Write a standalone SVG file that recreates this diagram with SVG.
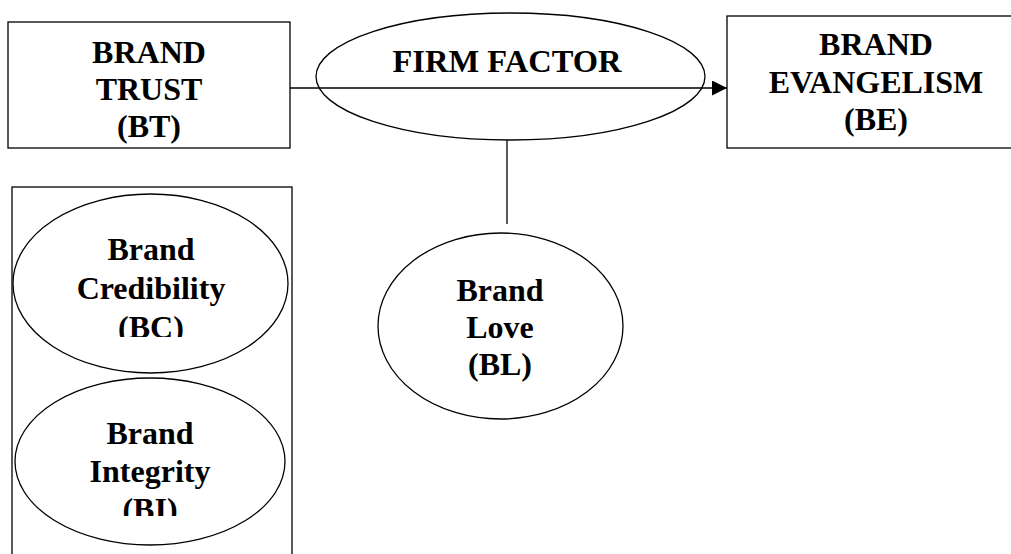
<svg xmlns="http://www.w3.org/2000/svg" width="1011" height="554" viewBox="0 0 1011 554">
<style>
.s{fill:none;stroke:#000;stroke-width:1.3}
.t{font-family:"Liberation Serif","Times New Roman",serif;font-weight:bold;font-size:32px;fill:#000;text-anchor:middle}
</style>
<defs>
<marker id="ah" markerWidth="16" markerHeight="16" refX="15" refY="7.5" orient="auto" markerUnits="userSpaceOnUse">
<path d="M0,0 L15,7.5 L0,15 Z" fill="#000"/>
</marker>
<clipPath id="cbc"><rect x="0" y="180" width="300" height="157"/></clipPath>
<clipPath id="cbi"><rect x="0" y="370" width="300" height="146"/></clipPath>
</defs>
<rect width="1011" height="554" fill="#fff"/>
<g id="bt">
<rect class="s" x="8" y="22" width="282" height="126"/>
<text class="t" x="149" y="63">BRAND</text>
<text class="t" x="149" y="100">TRUST</text>
<text class="t" x="149" y="137">(BT)</text>
</g>
<g id="be">
<rect class="s" x="727" y="16" width="300" height="132"/>
<text class="t" x="876" y="55">BRAND</text>
<text class="t" x="876" y="93">EVANGELISM</text>
<text class="t" x="876" y="130">(BE)</text>
</g>
<g id="ff">
<ellipse class="s" cx="510.5" cy="76.5" rx="194.5" ry="63.5"/>
<text class="t" x="507" y="72" style="font-size:32.5px">FIRM FACTOR</text>
</g>
<g id="connectors">
<line class="s" x1="290" y1="88" x2="727" y2="88" marker-end="url(#ah)"/>
<line class="s" x1="507" y1="140" x2="507" y2="224"/>
</g>
<g id="group">
<rect class="s" x="12" y="187" width="280" height="380"/>
</g>
<g id="bc">
<ellipse class="s" cx="150.5" cy="283.5" rx="137.5" ry="89.5"/>
<g clip-path="url(#cbc)">
<text class="t" x="151" y="260">Brand</text>
<text class="t" x="151" y="299">Credibility</text>
<text class="t" x="151" y="338">(BC)</text>
</g>
</g>
<g id="bi">
<ellipse class="s" cx="150" cy="461.5" rx="135" ry="83.5"/>
<g clip-path="url(#cbi)">
<text class="t" x="150" y="444">Brand</text>
<text class="t" x="150" y="482">Integrity</text>
<text class="t" x="150" y="520">(BI)</text>
</g>
</g>
<g id="bl">
<ellipse class="s" cx="500.5" cy="326" rx="122.5" ry="93"/>
<text class="t" x="500" y="301">Brand</text>
<text class="t" x="500" y="338">Love</text>
<text class="t" x="500" y="375">(BL)</text>
</g>
</svg>
